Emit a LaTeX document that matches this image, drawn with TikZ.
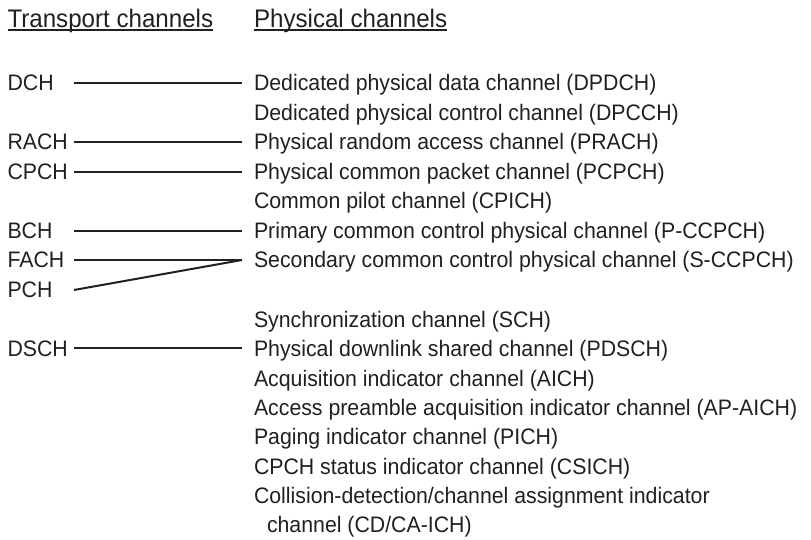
\documentclass[tikz,border=0pt]{standalone}
\usepackage{fontspec}
\setmainfont{Liberation Sans}[FakeStretch=0.95]
\definecolor{txt}{HTML}{231F20}
\begin{document}
\begin{tikzpicture}[x=1bp,y=-1bp,
  lbl/.style={inner sep=0pt, outer sep=0pt, anchor=west, text=txt,
    text height=16bp, text depth=0bp, font=\fontsize{22.5}{26}\selectfont},
  head/.style={lbl, text height=18.3bp, font=\fontsize{25.5}{30}\selectfont},
  link/.style={draw=txt, line width=2bp},
  uline/.style={draw=txt, line width=2bp}]
\useasboundingbox (0,0) rectangle (811,540);
% headers
\node[head] (hT) at (7.5,17.9) {Transport channels};
\node[head] (hP) at (254,17.9) {Physical channels};
\draw[uline] ([yshift=-3bp]hT.south west) -- ([yshift=-3bp]hT.south east);
\draw[uline] ([yshift=-3bp]hP.south west) -- ([yshift=-3bp]hP.south east);
% transport channels
\node[lbl] (tDCH)  at (7.5,83)  {DCH};
\node[lbl] (tRACH) at (7.5,142) {RACH};
\node[lbl] (tCPCH) at (7.5,172) {CPCH};
\node[lbl] (tBCH)  at (7.5,231) {BCH};
\node[lbl] (tFACH) at (7.5,260) {FACH};
\node[lbl] (tPCH)  at (7.5,290) {PCH};
\node[lbl] (tDSCH) at (7.5,348) {DSCH};
% physical channels
\node[lbl] (p0)  at (254,83)  {Dedicated physical data channel (DPDCH)};
\node[lbl] (p1)  at (254,113) {Dedicated physical control channel (DPCCH)};
\node[lbl] (p2)  at (254,142) {Physical random access channel (PRACH)};
\node[lbl] (p3)  at (254,172) {Physical common packet channel (PCPCH)};
\node[lbl] (p4)  at (254,201) {Common pilot channel (CPICH)};
\node[lbl] (p5)  at (254,231) {Primary common control physical channel (P-CCPCH)};
\node[lbl] (p6)  at (254,260) {Secondary common control physical channel (S-CCPCH)};
\node[lbl] (p8)  at (254,319) {Synchronization channel (SCH)};
\node[lbl] (p9)  at (254,348) {Physical downlink shared channel (PDSCH)};
\node[lbl] (p10) at (254,378) {Acquisition indicator channel (AICH)};
\node[lbl] (p11) at (254,407) {Access preamble acquisition indicator channel (AP-AICH)};
\node[lbl] (p12) at (254,436.5) {Paging indicator channel (PICH)};
\node[lbl] (p13) at (254,466) {CPCH status indicator channel (CSICH)};
\node[lbl] (p14) at (254,495) {Collision-detection/channel assignment indicator};
\node[lbl] (p15) at (267,524.5) {channel (CD/CA-ICH)};
% connectors
\coordinate (ls) at (74,0);
\draw[link] (ls |- tDCH.west)  -- ([xshift=-12bp]p0.west);
\draw[link] (ls |- tRACH.west) -- ([xshift=-12bp]p2.west);
\draw[link] (ls |- tCPCH.west) -- ([xshift=-12bp]p3.west);
\draw[link] (ls |- tBCH.west)  -- ([xshift=-12bp]p5.west);
\draw[link] (ls |- tFACH.west) -- ([xshift=-12bp]p6.west);
\draw[link] (ls |- tPCH.west)  -- ([xshift=-12bp]p6.west);
\draw[link] (ls |- tDSCH.west) -- ([xshift=-12bp]p9.west);
\end{tikzpicture}
\end{document}
